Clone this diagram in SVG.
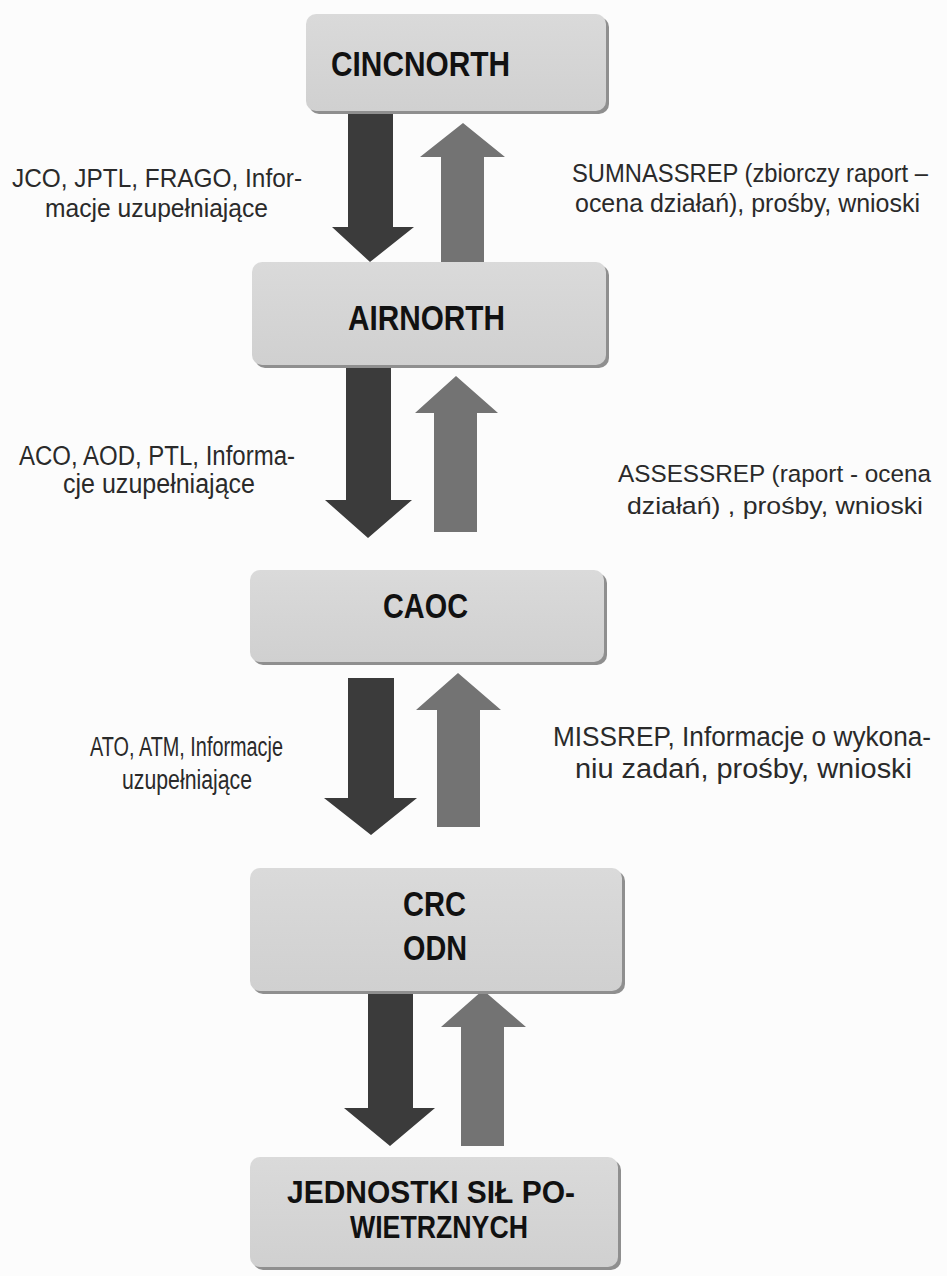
<svg xmlns="http://www.w3.org/2000/svg" width="947" height="1276" viewBox="0 0 947 1276">
  <style>
    .box { fill: url(#boxFill); }
    .shadow { fill: #8f8f8f; }
    .title { font-family: "Liberation Sans", Arial, sans-serif; font-weight: bold; font-size: 35px; fill: #111; }
    .two-line { font-size: 32px; }
    .label { font-family: "Liberation Sans", Arial, sans-serif; font-size: 25px; fill: #2a2a2a; }
    .narrow { font-size: 27px; }
    .edge { font-size: 24.5px; }
    .down { fill: #3b3b3b; }
    .up { fill: #737373; }
  </style>
  <defs>
    <linearGradient id="boxFill" x1="0" y1="0" x2="0" y2="1">
      <stop offset="0" stop-color="#dadada"/>
      <stop offset="1" stop-color="#d0d0d0"/>
    </linearGradient>
  </defs>

  <rect width="947" height="1276" fill="#fcfcfc"/>

  <!-- flows between command levels -->
  <g id="connectors">
    <!-- CINCNORTH <-> AIRNORTH -->
    <polygon class="down" points="348,112 393,112 393,227 414,227 370,262 332,227 348,227"/>
    <polygon class="up" points="441,263 484,263 484,157 505,157 463,123 420,157 441,157"/>
    <!-- AIRNORTH <-> CAOC -->
    <polygon class="down" points="346,368 391,368 391,500 412,500 368,538 325,500 346,500"/>
    <polygon class="up" points="434,532 477,532 477,413 498,413 456,376 415,413 434,413"/>
    <!-- CAOC <-> CRC/ODN -->
    <polygon class="down" points="348,678 394,678 394,798 417,798 371,835 324,798 348,798"/>
    <polygon class="up" points="437,827 480,827 480,710 501,710 458,673 416,710 437,710"/>
    <!-- CRC/ODN <-> units -->
    <polygon class="down" points="368,990 413,990 413,1108 435,1108 390,1146 344,1108 368,1108"/>
    <polygon class="up" points="461,1146 504,1146 504,1027 526,1027 483,990 441,1027 461,1027"/>
  </g>

  <g id="cincnorth">
    <rect class="shadow" x="309" y="17" width="300" height="97" rx="10"/>
    <rect class="box" x="306" y="14" width="300" height="97" rx="10"/>
    <text class="title" x="331" y="76" textLength="179" lengthAdjust="spacingAndGlyphs">CINCNORTH</text>
  </g>

  <g id="airnorth">
    <rect class="shadow" x="255" y="265" width="354" height="103" rx="10"/>
    <rect class="box" x="252" y="262" width="354" height="103" rx="10"/>
    <text class="title" x="348" y="330" textLength="157" lengthAdjust="spacingAndGlyphs">AIRNORTH</text>
  </g>

  <g id="caoc">
    <rect class="shadow" x="253" y="573" width="354" height="92" rx="10"/>
    <rect class="box" x="250" y="570" width="354" height="92" rx="10"/>
    <text class="title" x="383" y="618" textLength="85" lengthAdjust="spacingAndGlyphs">CAOC</text>
  </g>

  <g id="crc-odn">
    <rect class="shadow" x="253" y="871" width="372" height="123" rx="10"/>
    <rect class="box" x="250" y="868" width="372" height="123" rx="10"/>
    <text class="title" x="403" y="916" textLength="63" lengthAdjust="spacingAndGlyphs">CRC</text>
    <text class="title" x="403" y="960" textLength="64" lengthAdjust="spacingAndGlyphs">ODN</text>
  </g>

  <g id="jednostki">
    <rect class="shadow" x="253" y="1160" width="368" height="110" rx="10"/>
    <rect class="box" x="250" y="1157" width="368" height="110" rx="10"/>
    <text class="title two-line" x="287" y="1203" textLength="288" lengthAdjust="spacingAndGlyphs">JEDNOSTKI SIŁ PO-</text>
    <text class="title two-line" x="350" y="1238" textLength="178" lengthAdjust="spacingAndGlyphs">WIETRZNYCH</text>
  </g>

  <!-- message labels -->
  <g id="labels">
    <text class="label" x="12" y="187" textLength="290" lengthAdjust="spacingAndGlyphs">JCO, JPTL, FRAGO, Infor-</text>
    <text class="label" x="45" y="217" textLength="223" lengthAdjust="spacingAndGlyphs">macje uzupełniające</text>

    <text class="label" x="572" y="182" textLength="356" lengthAdjust="spacingAndGlyphs">SUMNASSREP (zbiorczy raport –</text>
    <text class="label" x="575" y="212" textLength="345" lengthAdjust="spacingAndGlyphs">ocena działań), prośby, wnioski</text>

    <text class="label narrow" x="19" y="465" textLength="276" lengthAdjust="spacingAndGlyphs">ACO, AOD, PTL, Informa-</text>
    <text class="label narrow" x="63" y="493" textLength="192" lengthAdjust="spacingAndGlyphs">cje uzupełniające</text>

    <text class="label edge" x="618" y="482" textLength="313" lengthAdjust="spacingAndGlyphs">ASSESSREP (raport - ocena</text>
    <text class="label edge" x="627" y="514" textLength="296" lengthAdjust="spacingAndGlyphs">działań) , prośby, wnioski</text>

    <text class="label narrow" x="90" y="756" textLength="193" lengthAdjust="spacingAndGlyphs">ATO, ATM, Informacje</text>
    <text class="label narrow" x="122" y="789" textLength="130" lengthAdjust="spacingAndGlyphs">uzupełniające</text>

    <text class="label narrow" x="553" y="746" textLength="378" lengthAdjust="spacingAndGlyphs">MISSREP, Informacje o wykona-</text>
    <text class="label narrow" x="575" y="778" textLength="337" lengthAdjust="spacingAndGlyphs">niu zadań, prośby, wnioski</text>
  </g>
</svg>
